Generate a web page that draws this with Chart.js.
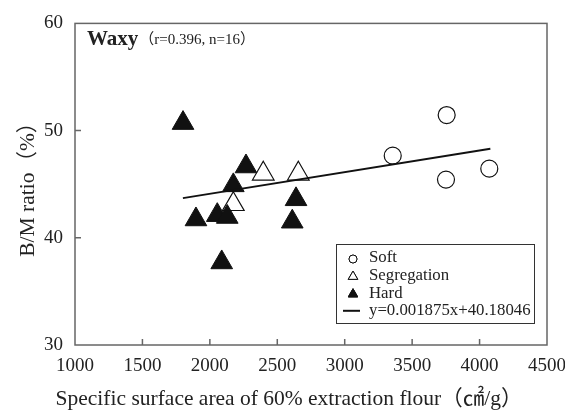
<!DOCTYPE html>
<html>
<head>
<meta charset="utf-8">
<script src="https://cdn.jsdelivr.net/npm/chart.js@4.4.1/dist/chart.umd.min.js"></script>
<style>
  html, body { margin: 0; padding: 0; background: #fff; }
  #wrap { width: 565px; height: 412px; }
</style>
</head>
<body>
<div id="wrap"><canvas id="chart" width="565" height="412"></canvas></div>
<script>
// values
const softX = [3756, 3356, 3751, 4072];
const softY = [51.45, 47.66, 45.43, 46.45];
const segX = [2396, 2656, 2174];
const segY = [45.97, 45.97, 43.13];
const hardX = [1801, 2268, 2174, 1897, 2055, 2129, 2639, 2611, 2088];
const hardY = [50.7, 46.65, 44.89, 41.71, 42.11, 41.94, 43.59, 41.5, 37.7];
const fitX = [1800, 4080];
const fitY = [43.7, 48.3];

const xTicks = [1000, 1500, 2000, 2500, 3000, 3500, 4000, 4500];
const yTicks = [30, 40, 50, 60];
const xTitle = 'Specific surface area of 60% extraction flour（㎠/g）';

const SERIF = '"Liberation Serif", "DejaVu Serif", "Noto Sans CJK JP", serif';

const pts = (xs, ys) => xs.map((x, i) => ({ x: x, y: ys[i] }));

// frame, inward tick marks, x title, the "Waxy" note and the boxed legend
const decor = {
    id: 'decor',
    afterDatasetsDraw(chart) {
        const ctx = chart.ctx;
        const a = chart.chartArea;
        const xs = chart.scales.x, ys = chart.scales.y;
        ctx.save();
        ctx.strokeStyle = '#666';
        ctx.lineWidth = 1.5;
        ctx.strokeRect(a.left, a.top, a.right - a.left, a.bottom - a.top);

        ctx.beginPath();
        xTicks.slice(1, -1).forEach(v => {
            const px = xs.getPixelForValue(v);
            ctx.moveTo(px, a.bottom);
            ctx.lineTo(px, a.bottom - 6);
        });
        yTicks.slice(1, -1).forEach(v => {
            const py = ys.getPixelForValue(v);
            ctx.moveTo(a.left, py);
            ctx.lineTo(a.left + 6, py);
        });
        ctx.stroke();

        // x title (sits a little left of the plot centre in the original)
        ctx.fillStyle = '#222';
        ctx.textBaseline = 'middle';
        ctx.textAlign = 'center';
        ctx.font = '21.5px ' + SERIF;
        ctx.fillText(xTitle, 289, 399);

        // note
        ctx.textAlign = 'left';
        ctx.font = 'bold 21px ' + SERIF;
        ctx.fillText('Waxy', a.left + 12, a.top + 16);
        const w = ctx.measureText('Waxy').width;
        ctx.font = '15px ' + SERIF;
        ctx.fillText('（r=0.396, n=16）', a.left + 12 + w + 1, a.top + 17);

        // legend
        const bx = 336, by = 244, bw = 198, bh = 79;
        ctx.fillStyle = '#fff';
        ctx.fillRect(bx, by, bw, bh);
        ctx.strokeStyle = '#333';
        ctx.lineWidth = 1;
        ctx.strokeRect(bx + 0.5, by + 0.5, bw, bh);

        const rows = chart.data.datasets;
        const order = [1, 2, 3, 0];
        ctx.font = '16.8px ' + SERIF;
        order.forEach((di, k) => {
            const ds = rows[di];
            const cy = by + 14 + k * 17.6;
            const mx = 353;
            ctx.fillStyle = '#222';
            ctx.fillText(ds.label, 369, cy);
            if (ds.type === 'line') {
                ctx.strokeStyle = '#111';
                ctx.lineWidth = 2;
                ctx.beginPath();
                ctx.moveTo(343, cy);
                ctx.lineTo(360, cy);
                ctx.stroke();
            } else {
                Chart.helpers.drawPoint(ctx, {
                    pointStyle: ds.pointStyle,
                    radius: ds.pointStyle === 'circle' ? 4 : 5.5,
                    borderWidth: 1
                }, mx, cy + 1);
                ctx.fillStyle = ds.backgroundColor;
                ctx.strokeStyle = '#111';
                ctx.lineWidth = 1;
                ctx.fill();
                ctx.stroke();
            }
        });
        ctx.restore();
    }
};

new Chart(document.getElementById('chart').getContext('2d'), {
    type: 'scatter',
    data: {
        datasets: [
            {
                type: 'line',
                label: 'y=0.001875x+40.18046',
                data: pts(fitX, fitY),
                borderColor: '#111',
                borderWidth: 2,
                pointRadius: 0,
                fill: false,
                order: 0
            },
            {
                label: 'Soft',
                data: pts(softX, softY),
                pointStyle: 'circle',
                pointRadius: 8.5,
                backgroundColor: '#fff',
                borderColor: '#111',
                borderWidth: 1.2,
                order: 3
            },
            {
                label: 'Segregation',
                data: pts(segX, segY),
                pointStyle: 'triangle',
                pointRadius: 12.5,
                backgroundColor: '#fff',
                borderColor: '#111',
                borderWidth: 1.2,
                order: 2
            },
            {
                label: 'Hard',
                data: pts(hardX, hardY),
                pointStyle: 'triangle',
                pointRadius: 12.5,
                backgroundColor: '#111',
                borderColor: '#111',
                borderWidth: 1,
                order: 1
            }
        ]
    },
    options: {
        responsive: false,
        animation: false,
        layout: { padding: { top: 21, right: 18, left: 0, bottom: 0 } },
        plugins: { legend: { display: false }, tooltip: { enabled: false } },
        scales: {
            x: {
                type: 'linear',
                min: 1000, max: 4500,
                afterFit: s => { s.height = 67; s.paddingLeft = 0; s.paddingRight = 0; },
                afterBuildTicks: s => { s.ticks = xTicks.map(v => ({ value: v })); },
                grid: { display: false, drawTicks: false },
                border: { display: false },
                ticks: {
                    color: '#222', padding: 10, maxRotation: 0,
                    font: { family: SERIF, size: 19 },
                    callback: v => String(v)
                },
                title: { display: false }
            },
            y: {
                min: 30, max: 60,
                afterFit: s => { s.width = 75; },
                afterBuildTicks: s => { s.ticks = yTicks.map(v => ({ value: v })); },
                grid: { display: false, drawTicks: false },
                border: { display: false },
                ticks: {
                    color: '#222', padding: 12,
                    font: { family: SERIF, size: 19 },
                    callback: v => String(v)
                },
                title: {
                    display: true,
                    text: 'B/M ratio（%）',
                    color: '#222',
                    font: { family: SERIF, size: 21.5 },
                    padding: { top: 15, bottom: 0 }
                }
            }
        }
    },
    plugins: [decor]
});
</script>
</body>
</html>
